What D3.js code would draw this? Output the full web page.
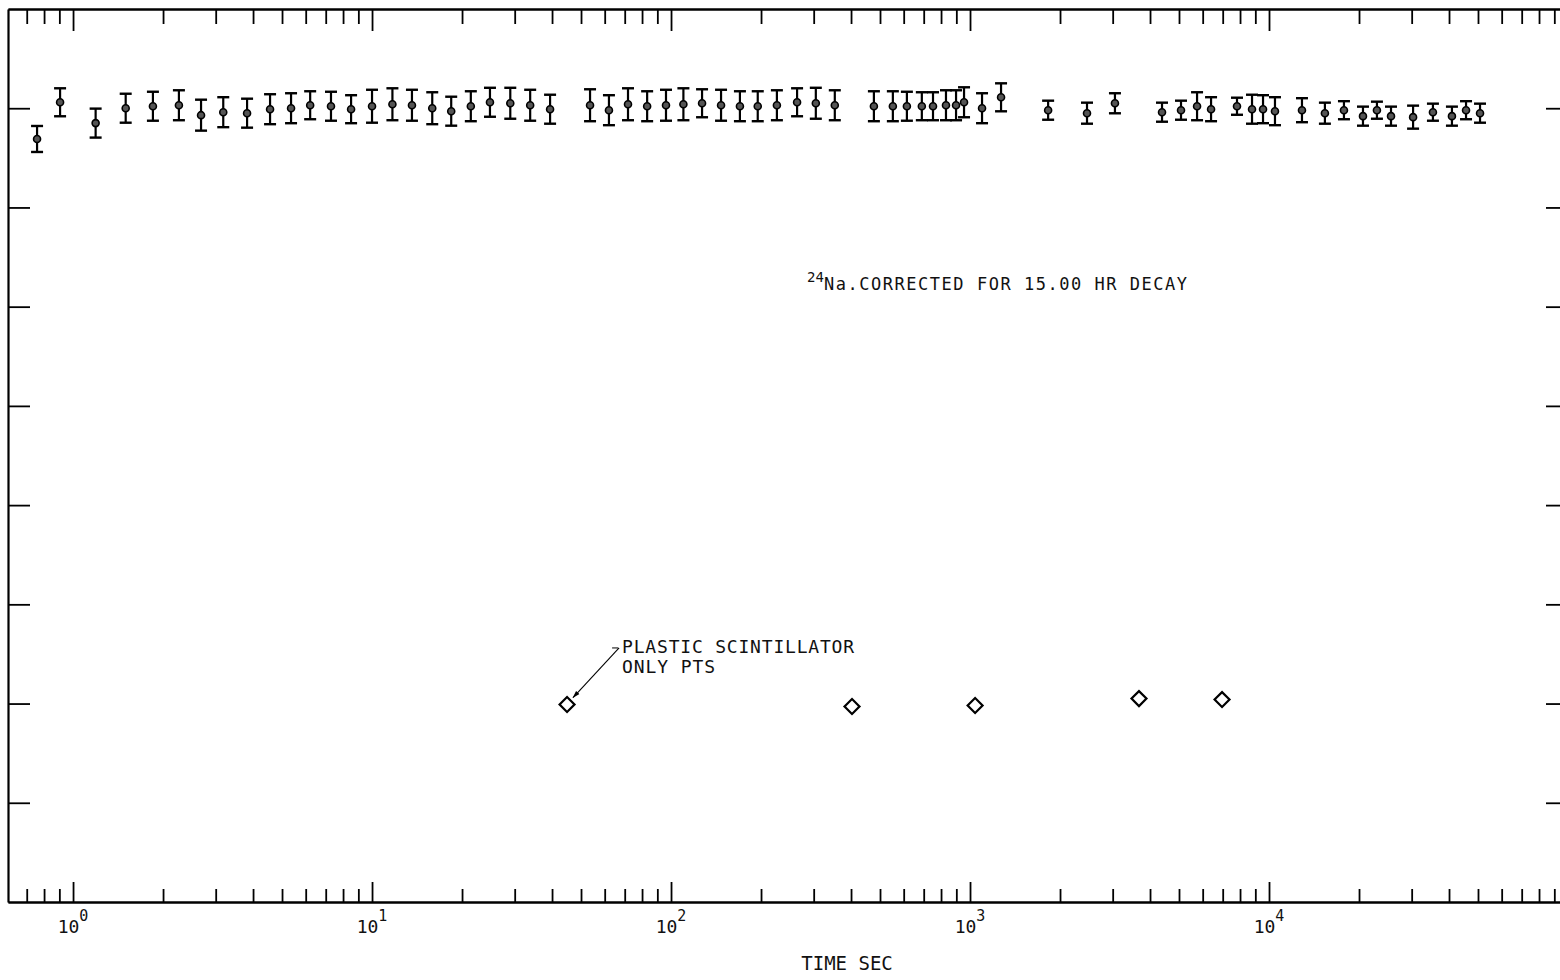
<!DOCTYPE html>
<html>
<head>
<meta charset="utf-8">
<script src="https://cdn.jsdelivr.net/npm/d3@7"></script>
<style>
  body { margin: 0; background: #fff; }
  svg { display: block; }
</style>
</head>
<body>
<svg id="chart" width="1560" height="980"></svg>
<script>
// 24Na run, corrected for decay (arbitrary units)
const times = [0.758, 0.905, 1.19, 1.50, 1.85, 2.26, 2.68, 3.18, 3.82, 4.56,
    5.36, 6.21, 7.29, 8.51, 10.0, 11.7, 13.6, 15.9, 18.4, 21.4,
    24.8, 29.0, 33.8, 39.4, 53.6, 62.0, 71.8, 83.2, 96.2, 110,
    127, 147, 170, 195, 226, 264, 305, 353, 477, 552,
    615, 690, 752, 831, 898, 955, 1097, 1270, 1825, 2462,
    3053, 4387, 5078, 5746, 6400, 7815, 8774, 9550, 10470, 12890,
    15380, 17810, 20620, 22960, 25590, 30330, 35340, 40910, 45600, 50790];
const counts = [7.69, 8.06, 7.85, 8.00, 8.02, 8.03, 7.93, 7.96, 7.95, 7.99,
    8.00, 8.03, 8.02, 7.99, 8.02, 8.04, 8.03, 8.00, 7.97, 8.02,
    8.06, 8.05, 8.03, 7.99, 8.03, 7.98, 8.04, 8.02, 8.03, 8.04,
    8.05, 8.03, 8.02, 8.02, 8.03, 8.06, 8.05, 8.03, 8.02, 8.02,
    8.02, 8.02, 8.02, 8.03, 8.03, 8.06, 8.00, 8.11, 7.98, 7.95,
    8.05, 7.96, 7.98, 8.02, 7.99, 8.02, 7.99, 7.99, 7.97, 7.98,
    7.95, 7.98, 7.92, 7.98, 7.92, 7.91, 7.96, 7.92, 7.98, 7.95];
const countErr = [0.131, 0.141, 0.146, 0.146, 0.146, 0.151, 0.156, 0.151, 0.146, 0.151,
    0.151, 0.141, 0.146, 0.141, 0.166, 0.161, 0.156, 0.161, 0.146, 0.151,
    0.146, 0.156, 0.156, 0.146, 0.161, 0.151, 0.161, 0.151, 0.156, 0.161,
    0.141, 0.156, 0.151, 0.151, 0.151, 0.141, 0.156, 0.151, 0.151, 0.151,
    0.146, 0.141, 0.141, 0.151, 0.151, 0.151, 0.151, 0.141, 0.096, 0.106,
    0.101, 0.096, 0.096, 0.141, 0.121, 0.086, 0.146, 0.141, 0.141, 0.121,
    0.106, 0.091, 0.096, 0.086, 0.096, 0.116, 0.086, 0.096, 0.091, 0.096];

// plastic scintillator only points
const plasticTimes = [44.9, 403, 1040, 3674, 6965];
const plasticCounts = [1.99, 1.97, 1.98, 2.05, 2.04];

// axis ticks
const decades = [1, 10, 100, 1000, 10000];
const decadeExp = ["0", "1", "2", "3", "4"];
const yTicks = [1, 2, 3, 4, 5, 6, 7, 8];

// annotation anchors, in data units [time, value]
const naLabelAt = [285, 6.17];
const plasticLabelAt = [68.6, 2.51];

const svg = d3.select("#chart");
const plotL = 8, plotR = 1568, plotT = 9, plotB = 902;
const font = "'DejaVu Sans Mono', monospace";

const x = d3.scaleLog().domain([0.606, 1e5]).range([plotL, plotR]);
const y = d3.scaleLinear().domain([0, 9]).range([plotB, plotT]);

// minor ticks 2..9 in every decade inside the domain
const minorTicks = [];
for (let e = -1; e <= 4; e++) {
    for (let m = 2; m <= 9; m++) {
        const v = m * Math.pow(10, e);
        if (v > x.domain()[0] && v < x.domain()[1]) minorTicks.push(v);
    }
}

function inkAxis(g, lineW) {
    g.selectAll(".domain").attr("stroke", "#000").attr("stroke-width", lineW);
    g.selectAll(".tick line").attr("stroke", "#000").attr("stroke-width", 1.8);
    g.selectAll(".tick text").remove();
}

// bottom + top log axes, ticks inward
svg.append("g").attr("transform", `translate(0,${plotB})`)
    .call(d3.axisBottom(x).tickValues(minorTicks).tickSize(-13).tickSizeOuter(0).tickFormat(""))
    .call(g => inkAxis(g, 2));
svg.append("g").attr("transform", `translate(0,${plotB})`)
    .call(d3.axisBottom(x).tickValues(decades).tickSize(-20).tickSizeOuter(0).tickFormat(""))
    .call(g => inkAxis(g, 2));
svg.append("g").attr("transform", `translate(0,${plotT})`)
    .call(d3.axisTop(x).tickValues(minorTicks).tickSize(-15).tickSizeOuter(0).tickFormat(""))
    .call(g => inkAxis(g, 2));
svg.append("g").attr("transform", `translate(0,${plotT})`)
    .call(d3.axisTop(x).tickValues(decades).tickSize(-22).tickSizeOuter(0).tickFormat(""))
    .call(g => inkAxis(g, 2));

// left + right linear axes, no labels
svg.append("g").attr("transform", `translate(${plotL},0)`)
    .call(d3.axisLeft(y).tickValues(yTicks).tickSize(-22).tickSizeOuter(0).tickFormat(""))
    .call(g => inkAxis(g, 2.2));
svg.append("g").attr("transform", `translate(${plotR},0)`)
    .call(d3.axisRight(y).tickValues(yTicks).tickSize(-22).tickSizeOuter(0).tickFormat(""))
    .call(g => inkAxis(g, 2.2));

// decade labels 10^n
const lbl = svg.append("g").attr("font-family", font).attr("fill", "#111");
decades.forEach((d, i) => {
    const t = lbl.append("text")
        .attr("x", x(d))
        .attr("y", plotB + 31)
        .attr("text-anchor", "middle")
        .attr("font-size", 18);
    t.append("tspan").text("10");
    t.append("tspan").attr("dy", -12).attr("font-size", 15).text(decadeExp[i]);
});

svg.append("text")
    .attr("x", x(400) - 4)
    .attr("y", plotB + 68)
    .attr("text-anchor", "middle")
    .attr("font-family", font)
    .attr("font-size", 19)
    .attr("fill", "#111")
    .text("TIME SEC");

// error bars
const pts = svg.append("g");
const cap = 6;
times.forEach((t, i) => {
    const cx = x(t);
    const yHi = y(counts[i] + countErr[i]);
    const yLo = y(counts[i] - countErr[i]);
    pts.append("line").attr("x1", cx).attr("x2", cx).attr("y1", yHi).attr("y2", yLo)
        .attr("stroke", "#000").attr("stroke-width", 2.2);
    pts.append("line").attr("x1", cx - cap).attr("x2", cx + cap).attr("y1", yHi).attr("y2", yHi)
        .attr("stroke", "#000").attr("stroke-width", 2.4);
    pts.append("line").attr("x1", cx - cap).attr("x2", cx + cap).attr("y1", yLo).attr("y2", yLo)
        .attr("stroke", "#000").attr("stroke-width", 2.4);
});
pts.selectAll("circle")
    .data(times)
    .join("circle")
    .attr("cx", d => x(d))
    .attr("cy", (d, i) => y(counts[i]))
    .attr("r", 3.5)
    .attr("fill", "#555")
    .attr("stroke", "#000")
    .attr("stroke-width", 1.6);

// plastic scintillator diamonds
const diamond = d3.symbol().type(d3.symbolSquare).size(112);
svg.append("g").selectAll("path")
    .data(plasticTimes)
    .join("path")
    .attr("d", diamond)
    .attr("transform", (d, i) => `translate(${x(d)},${y(plasticCounts[i])}) rotate(45)`)
    .attr("fill", "#fff")
    .attr("stroke", "#000")
    .attr("stroke-width", 2.2);

// annotations
svg.append("defs").append("marker")
    .attr("id", "arr")
    .attr("viewBox", "0 0 10 10")
    .attr("refX", 9).attr("refY", 5)
    .attr("markerWidth", 7).attr("markerHeight", 7)
    .attr("orient", "auto")
    .append("path").attr("d", "M0,2L10,5L0,8Z").attr("fill", "#000");

const px = x(plasticLabelAt[0]), py = y(plasticLabelAt[1]);
const d0x = x(plasticTimes[0]), d0y = y(plasticCounts[0]);
svg.append("line")
    .attr("x1", px - 3).attr("y1", py - 5)
    .attr("x2", d0x + 6).attr("y2", d0y - 7)
    .attr("stroke", "#000").attr("stroke-width", 1.1)
    .attr("marker-end", "url(#arr)");
svg.append("line")
    .attr("x1", px - 10).attr("y1", py - 5)
    .attr("x2", px - 4).attr("y2", py - 5)
    .attr("stroke", "#000").attr("stroke-width", 1);

svg.append("text")
    .attr("x", px).attr("y", py)
    .attr("font-family", font).attr("font-size", 18).attr("fill", "#111")
    .attr("textLength", 232).attr("lengthAdjust", "spacing")
    .text("PLASTIC SCINTILLATOR");
svg.append("text")
    .attr("x", px).attr("y", py + 20)
    .attr("font-family", font).attr("font-size", 18).attr("fill", "#111")
    .attr("textLength", 93).attr("lengthAdjust", "spacing")
    .text("ONLY PTS");

const nx = x(naLabelAt[0]), ny = y(naLabelAt[1]);
svg.append("text")
    .attr("x", nx).attr("y", ny - 8)
    .attr("font-family", font).attr("font-size", 14).attr("fill", "#111")
    .text("24");
svg.append("text")
    .attr("x", nx + 17).attr("y", ny)
    .attr("font-family", font).attr("font-size", 17).attr("fill", "#111")
    .attr("textLength", 363).attr("lengthAdjust", "spacing")
    .text("Na.CORRECTED FOR 15.00 HR DECAY");
</script>
</body>
</html>
